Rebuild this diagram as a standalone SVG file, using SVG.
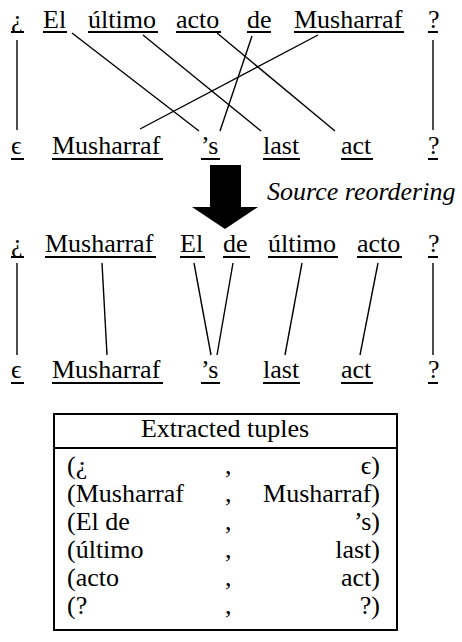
<svg xmlns="http://www.w3.org/2000/svg" width="462" height="642" viewBox="0 0 462 642" font-family="Liberation Serif, serif" font-size="26">
<style>
text{fill:#000}
.it{font-style:italic}
.ul{stroke:#000;stroke-width:2}
.cn line{stroke:#000;stroke-width:1.4}
.end{text-anchor:end}
.mid{text-anchor:middle}
</style>
<rect width="462" height="642" fill="#fff"/>
<!-- Row 1 -->
<g id="r1-q"><text x="11" y="28">¿</text><line class="ul" x1="11" y1="32" x2="24" y2="32"/></g>
<g id="r1-el"><text x="43" y="28">El</text><line class="ul" x1="43" y1="32" x2="67" y2="32"/></g>
<g id="r1-ultimo"><text x="88" y="28">último</text><line class="ul" x1="88" y1="32" x2="158" y2="32"/></g>
<g id="r1-acto"><text x="176" y="28">acto</text><line class="ul" x1="176" y1="32" x2="221" y2="32"/></g>
<g id="r1-de"><text x="247" y="28">de</text><line class="ul" x1="247" y1="32" x2="271" y2="32"/></g>
<g id="r1-musharraf"><text x="294" y="28">Musharraf</text><line class="ul" x1="294" y1="32" x2="404" y2="32"/></g>
<g id="r1-qm"><text x="428" y="28">?</text><line class="ul" x1="428" y1="32" x2="438" y2="32"/></g>
<!-- Row 2 -->
<g id="r2-eps"><text x="11" y="154">ϵ</text><line class="ul" x1="11" y1="159" x2="24" y2="159"/></g>
<g id="r2-musharraf"><text x="52" y="154">Musharraf</text><line class="ul" x1="52" y1="159" x2="163" y2="159"/></g>
<g id="r2-s"><text x="201" y="154">’s</text><line class="ul" x1="201" y1="159" x2="220" y2="159"/></g>
<g id="r2-last"><text x="263" y="154">last</text><line class="ul" x1="263" y1="159" x2="300" y2="159"/></g>
<g id="r2-act"><text x="341" y="154">act</text><line class="ul" x1="341" y1="159" x2="373" y2="159"/></g>
<g id="r2-qm"><text x="428" y="154">?</text><line class="ul" x1="428" y1="159" x2="438" y2="159"/></g>
<!-- Arrow -->
<g id="arrow">
<rect x="210" y="165" width="31" height="43" fill="#000"/>
<polygon points="192,207 258,207 225,229" fill="#000"/>
<text class="it" x="267" y="200">Source reordering</text>
</g>
<!-- Row 3 -->
<g id="r3-q"><text x="11" y="252">¿</text><line class="ul" x1="11" y1="257" x2="24" y2="257"/></g>
<g id="r3-musharraf"><text x="45" y="252">Musharraf</text><line class="ul" x1="45" y1="257" x2="156" y2="257"/></g>
<g id="r3-el"><text x="180" y="252">El</text><line class="ul" x1="180" y1="257" x2="205" y2="257"/></g>
<g id="r3-de"><text x="223" y="252">de</text><line class="ul" x1="223" y1="257" x2="250" y2="257"/></g>
<g id="r3-ultimo"><text x="268" y="252">último</text><line class="ul" x1="268" y1="257" x2="338" y2="257"/></g>
<g id="r3-acto"><text x="357" y="252">acto</text><line class="ul" x1="357" y1="257" x2="402" y2="257"/></g>
<g id="r3-qm"><text x="428" y="252">?</text><line class="ul" x1="428" y1="257" x2="438" y2="257"/></g>
<!-- Row 4 -->
<g id="r4-eps"><text x="11" y="378">ϵ</text><line class="ul" x1="11" y1="383" x2="24" y2="383"/></g>
<g id="r4-musharraf"><text x="52" y="378">Musharraf</text><line class="ul" x1="52" y1="383" x2="163" y2="383"/></g>
<g id="r4-s"><text x="201" y="378">’s</text><line class="ul" x1="201" y1="383" x2="220" y2="383"/></g>
<g id="r4-last"><text x="263" y="378">last</text><line class="ul" x1="263" y1="383" x2="300" y2="383"/></g>
<g id="r4-act"><text x="341" y="378">act</text><line class="ul" x1="341" y1="383" x2="373" y2="383"/></g>
<g id="r4-qm"><text x="428" y="378">?</text><line class="ul" x1="428" y1="383" x2="438" y2="383"/></g>
<!-- Connectors -->
<g id="connectors" class="cn">
<line x1="17" y1="40" x2="17" y2="130"/>
<line x1="72" y1="33" x2="199" y2="131"/>
<line x1="143" y1="35" x2="261" y2="131"/>
<line x1="217" y1="33" x2="335" y2="131"/>
<line x1="252" y1="36" x2="220" y2="131"/>
<line x1="318" y1="35" x2="140" y2="129"/>
<line x1="433" y1="40" x2="433" y2="130"/>
<line x1="17" y1="263" x2="17" y2="355"/>
<line x1="102" y1="263" x2="107" y2="355"/>
<line x1="194" y1="263" x2="211" y2="355"/>
<line x1="233" y1="263" x2="217" y2="355"/>
<line x1="302" y1="263" x2="285" y2="355"/>
<line x1="378" y1="263" x2="360" y2="355"/>
<line x1="433" y1="263" x2="433" y2="355"/>
</g>
<!-- Table -->
<g id="table">
<rect x="54" y="414" width="343" height="216" fill="none" stroke="#000" stroke-width="2"/>
<line x1="54" y1="448" x2="397" y2="448" stroke="#000" stroke-width="2"/>
<text class="mid" x="225" y="437">Extracted tuples</text>
<text x="67" y="474">(¿</text><text x="225" y="474">,</text><text class="end" x="380" y="474">ϵ)</text>
<text x="67" y="502">(Musharraf</text><text x="225" y="502">,</text><text class="end" x="380" y="502">Musharraf)</text>
<text x="67" y="530">(El de</text><text x="225" y="530">,</text><text class="end" x="380" y="530">’s)</text>
<text x="67" y="558">(último</text><text x="225" y="558">,</text><text class="end" x="380" y="558">last)</text>
<text x="67" y="586">(acto</text><text x="225" y="586">,</text><text class="end" x="380" y="586">act)</text>
<text x="67" y="614">(?</text><text x="225" y="614">,</text><text class="end" x="380" y="614">?)</text>
</g>
</svg>
